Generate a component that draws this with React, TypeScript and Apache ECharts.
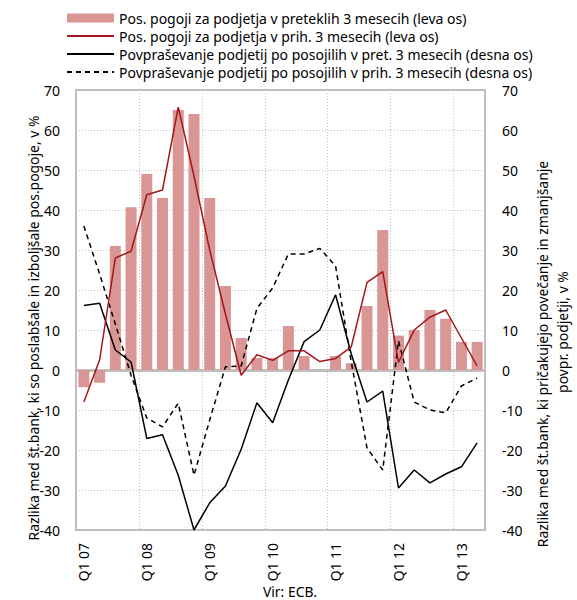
import React, { useEffect, useRef } from "react";
import * as echarts from "echarts";

const categories: string[] = [
  "Q1 07", "Q2 07", "Q3 07", "Q4 07",
  "Q1 08", "Q2 08", "Q3 08", "Q4 08",
  "Q1 09", "Q2 09", "Q3 09", "Q4 09",
  "Q1 10", "Q2 10", "Q3 10", "Q4 10",
  "Q1 11", "Q2 11", "Q3 11", "Q4 11",
  "Q1 12", "Q2 12", "Q3 12", "Q4 12",
  "Q1 13", "Q2 13",
];

const pastConditions: number[] = [
  -4.3, -3.2, 31, 40.7, 49, 43, 65, 64, 43, 21, 8, 3, 3, 11, 3.5, 0,
  3.5, 1.7, 16, 35, 8.6, 10, 15, 12.8, 7, 7,
];

const expectedConditions: number[] = [
  -8, 2.5, 28, 29.7, 43.8, 45, 65.7, 48.5, 30, 14, -1.3, 3.8, 2.4, 4.8, 4.8, 2.1,
  2.9, 5.8, 21.9, 24.6, 1.9, 10, 13.2, 15, 8, 1,
];

const pastDemand: number[] = [
  16.1, 16.7, 5, 2, -17.1, -16.2, -26.3, -40, -33.2, -29, -19.8, -8.2, -13.2, -2.5, 7.1, 10,
  18.8, 4, -8, -5.3, -29.5, -25, -28.2, -26, -24.2, -18.2,
];

const expectedDemand: number[] = [
  36, 24, 11.5, -1.3, -12, -14.2, -8.3, -26.3, -12.5, 0.8, 1, 15.4, 20.5, 29, 29, 30.4,
  26, 2, -19.5, -25, 7.3, -8, -10, -10.7, -4, -2,
];

const seriesNames: string[] = [
  "Pos. pogoji za podjetja v preteklih 3 mesecih (leva os)",
  "Pos. pogoji za podjetja v prih. 3 mesecih (leva os)",
  "Povpraševanje podjetij po posojilih v pret. 3 mesecih (desna os)",
  "Povpraševanje podjetij po posojilih v prih. 3 mesecih (desna os)",
];

const leftAxisTitle = "Razlika med št.bank, ki so poslabšale in izboljšale pos.pogoje, v %";
const rightAxisTitle1 = "Razlika med št.bank, ki pričakujejo povečanje in zmanjšanje";
const rightAxisTitle2 = "povpr. podjetji, v %";
const sourceText = "Vir: ECB.";

const FONT = "Noto Sans";
const LEG = 14;
const TITLE = 13.9;
const TICK = 14;

export default function App() {
  const ref = useRef<HTMLDivElement>(null);
  useEffect(() => {
    document.body.style.margin = "0";
    if (!ref.current) return;
    const chart = echarts.init(ref.current, null, { renderer: "svg" });
    const gridColor = "#bfbfbf";
    const valueAxisBase = {
      type: "value" as const,
      min: -40,
      max: 70,
      interval: 10,
      axisLine: { show: false },
      axisTick: { show: false },
    };
    const hiddenSymbol = { opacity: 0, borderWidth: 0 };
    const rotatedText = (text: string, x: number, y: number) => ({
      type: "text",
      x,
      y,
      rotation: Math.PI / 2,
      style: {
        text,
        fontFamily: FONT,
        fontSize: TITLE,
        fill: "#000",
        textAlign: "center",
        textVerticalAlign: "middle",
      },
    });
    chart.setOption({
      animation: false,
      textStyle: { fontFamily: FONT },
      legend: {
        orient: "vertical",
        left: 66,
        top: 9.5,
        padding: 0,
        itemWidth: 47,
        itemHeight: 9,
        itemGap: 1,
        textStyle: { fontFamily: FONT, fontSize: LEG, color: "#000", lineHeight: 17 },
        data: [
          { name: seriesNames[0], icon: "rect" },
          { name: seriesNames[1], itemStyle: hiddenSymbol },
          { name: seriesNames[2], itemStyle: hiddenSymbol },
          { name: seriesNames[3], itemStyle: hiddenSymbol },
        ],
      },
      grid: {
        left: 76,
        right: 92,
        top: 90,
        bottom: 70,
        show: true,
        borderColor: gridColor,
        borderWidth: 2,
        backgroundColor: "transparent",
      },
      xAxis: {
        type: "category",
        data: categories,
        boundaryGap: true,
        axisLine: { show: true, onZero: true, lineStyle: { color: gridColor, width: 3 } },
        axisTick: { show: false },
        axisLabel: {
          interval: 3,
          rotate: 90,
          margin: 13,
          fontFamily: FONT,
          fontSize: TITLE,
          color: "#000",
        },
        splitLine: {
          show: true,
          interval: 3,
          lineStyle: { color: gridColor, type: [1, 2], width: 1 },
        },
      },
      yAxis: [
        {
          ...valueAxisBase,
          position: "left",
          axisLabel: { margin: 16, fontFamily: FONT, fontSize: TICK, color: "#000" },
          splitLine: { show: true, lineStyle: { color: gridColor, type: [1, 2], width: 1 } },
        },
        {
          ...valueAxisBase,
          position: "right",
          axisLabel: { margin: 17, fontFamily: FONT, fontSize: TICK, color: "#000" },
          splitLine: { show: false },
        },
      ],
      series: [
        {
          name: seriesNames[0],
          type: "bar",
          yAxisIndex: 0,
          data: pastConditions,
          barCategoryGap: "30%",
          itemStyle: { color: "#da9694" },
          z: 1,
        },
        {
          name: seriesNames[1],
          type: "line",
          yAxisIndex: 0,
          data: expectedConditions,
          symbol: "none",
          lineStyle: { color: "#a3161b", width: 1.5 },
          itemStyle: { color: "#a3161b" },
          z: 4,
        },
        {
          name: seriesNames[2],
          type: "line",
          yAxisIndex: 1,
          data: pastDemand,
          symbol: "none",
          lineStyle: { color: "#000", width: 1.5 },
          itemStyle: { color: "#000" },
          z: 3,
        },
        {
          name: seriesNames[3],
          type: "line",
          yAxisIndex: 1,
          data: expectedDemand,
          symbol: "none",
          lineStyle: { color: "#000", width: 1.5, type: [5, 4] },
          itemStyle: { color: "#000" },
          z: 3,
        },
      ],
      graphic: [
        rotatedText(leftAxisTitle, 33, 328),
        rotatedText(rightAxisTitle1, 542, 354),
        rotatedText(rightAxisTitle2, 562, 332),
        {
          type: "text",
          x: 290,
          y: 591,
          style: {
            text: sourceText,
            fontFamily: FONT,
            fontSize: TITLE,
            fill: "#000",
            textAlign: "center",
            textVerticalAlign: "middle",
          },
        },
      ],
    });
    return () => chart.dispose();
  }, []);
  return <div ref={ref} style={{ width: 577, height: 600 }} />;
}
